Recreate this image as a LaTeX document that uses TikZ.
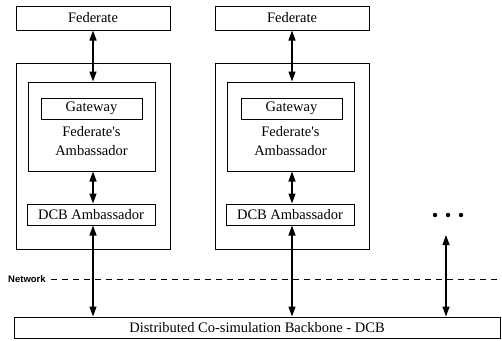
\documentclass[tikz,border=0pt]{standalone}
\usepackage{fontspec}
\setmainfont{Liberation Serif}
\setsansfont{Liberation Sans}
\usetikzlibrary{arrows.meta}

\tikzset{
  box/.style={draw, line width=1pt, inner sep=0pt},
  link/.style={line width=1.3pt, {Triangle[length=10pt,width=7pt]}-{Triangle[length=10pt,width=7pt]}},
}

\begin{document}
\begin{tikzpicture}[x=1pt,y=-1pt,font=\fontsize{14.5}{19.5}\selectfont]
		\useasboundingbox (0,0) rectangle (502,340);
		
		% Federate 1
		\node[box, minimum width=154pt, minimum height=24pt] (fedA) at (93,18) {Federate};
		\node[box, minimum width=154pt, minimum height=186pt] (hostA) at (93,156) {};
		\node[box, minimum width=127pt, minimum height=89pt] (ambA) at (91.5,126.5) {};
		\node[box, minimum width=101pt, minimum height=21pt] (gateA) at (91.5,108.5) {Gateway};
		\node[align=center] (textA) at (91.5,141) {Federate\textquotesingle s\\Ambassador};
		\node[box, minimum width=128pt, minimum height=21pt] (dcbA) at (91,214.5) {DCB Ambassador};
		
		% Federate 2
		\node[box, minimum width=154pt, minimum height=24pt] (fedB) at (292,18) {Federate};
		\node[box, minimum width=154pt, minimum height=186pt] (hostB) at (292,156) {};
		\node[box, minimum width=127pt, minimum height=89pt] (ambB) at (290.5,126.5) {};
		\node[box, minimum width=101pt, minimum height=21pt] (gateB) at (291.5,108.5) {Gateway};
		\node[align=center] (textB) at (290.5,141) {Federate\textquotesingle s\\Ambassador};
		\node[box, minimum width=128pt, minimum height=21pt] (dcbB) at (290,214.5) {DCB Ambassador};
		
		% Backbone
		\node[box, minimum width=486pt, minimum height=21pt] (dcb) at (257,327.5) {Distributed Co-simulation Backbone - DCB};
		
		% Netzwerk
		\node[font=\fontsize{9.5}{10}\sffamily\bfseries, anchor=west, inner sep=0pt] (net) at (8,279) {Network};
		\coordinate (netend) at (502,279);
		\draw[line width=0.9pt, dash pattern=on 6pt off 5pt, shorten <=5pt] (net.east) -- (netend);
		
		% Pfeile
		\draw[link] (fedA.south) -- (fedA.south |- ambA.north);
		\draw[link] (fedA.south |- ambA.south) -- (fedA.south |- dcbA.north);
		\draw[link] (fedA.south |- dcbA.south) -- (fedA.south |- dcb.north);
		
		\draw[link] (fedB.south) -- (fedB.south |- ambB.north);
		\draw[link] (fedB.south |- ambB.south) -- (fedB.south |- dcbB.north);
		\draw[link] (fedB.south |- dcbB.south) -- (fedB.south |- dcb.north);
		
		\coordinate (free) at (446,235);
		\draw[link] (free) -- (free |- dcb.north);
		
		% Punkte
		\fill (435,215) circle (2.2);
		\fill (448,215) circle (2.2);
		\fill (461,215) circle (2.2);
	\end{tikzpicture}
\end{document}
